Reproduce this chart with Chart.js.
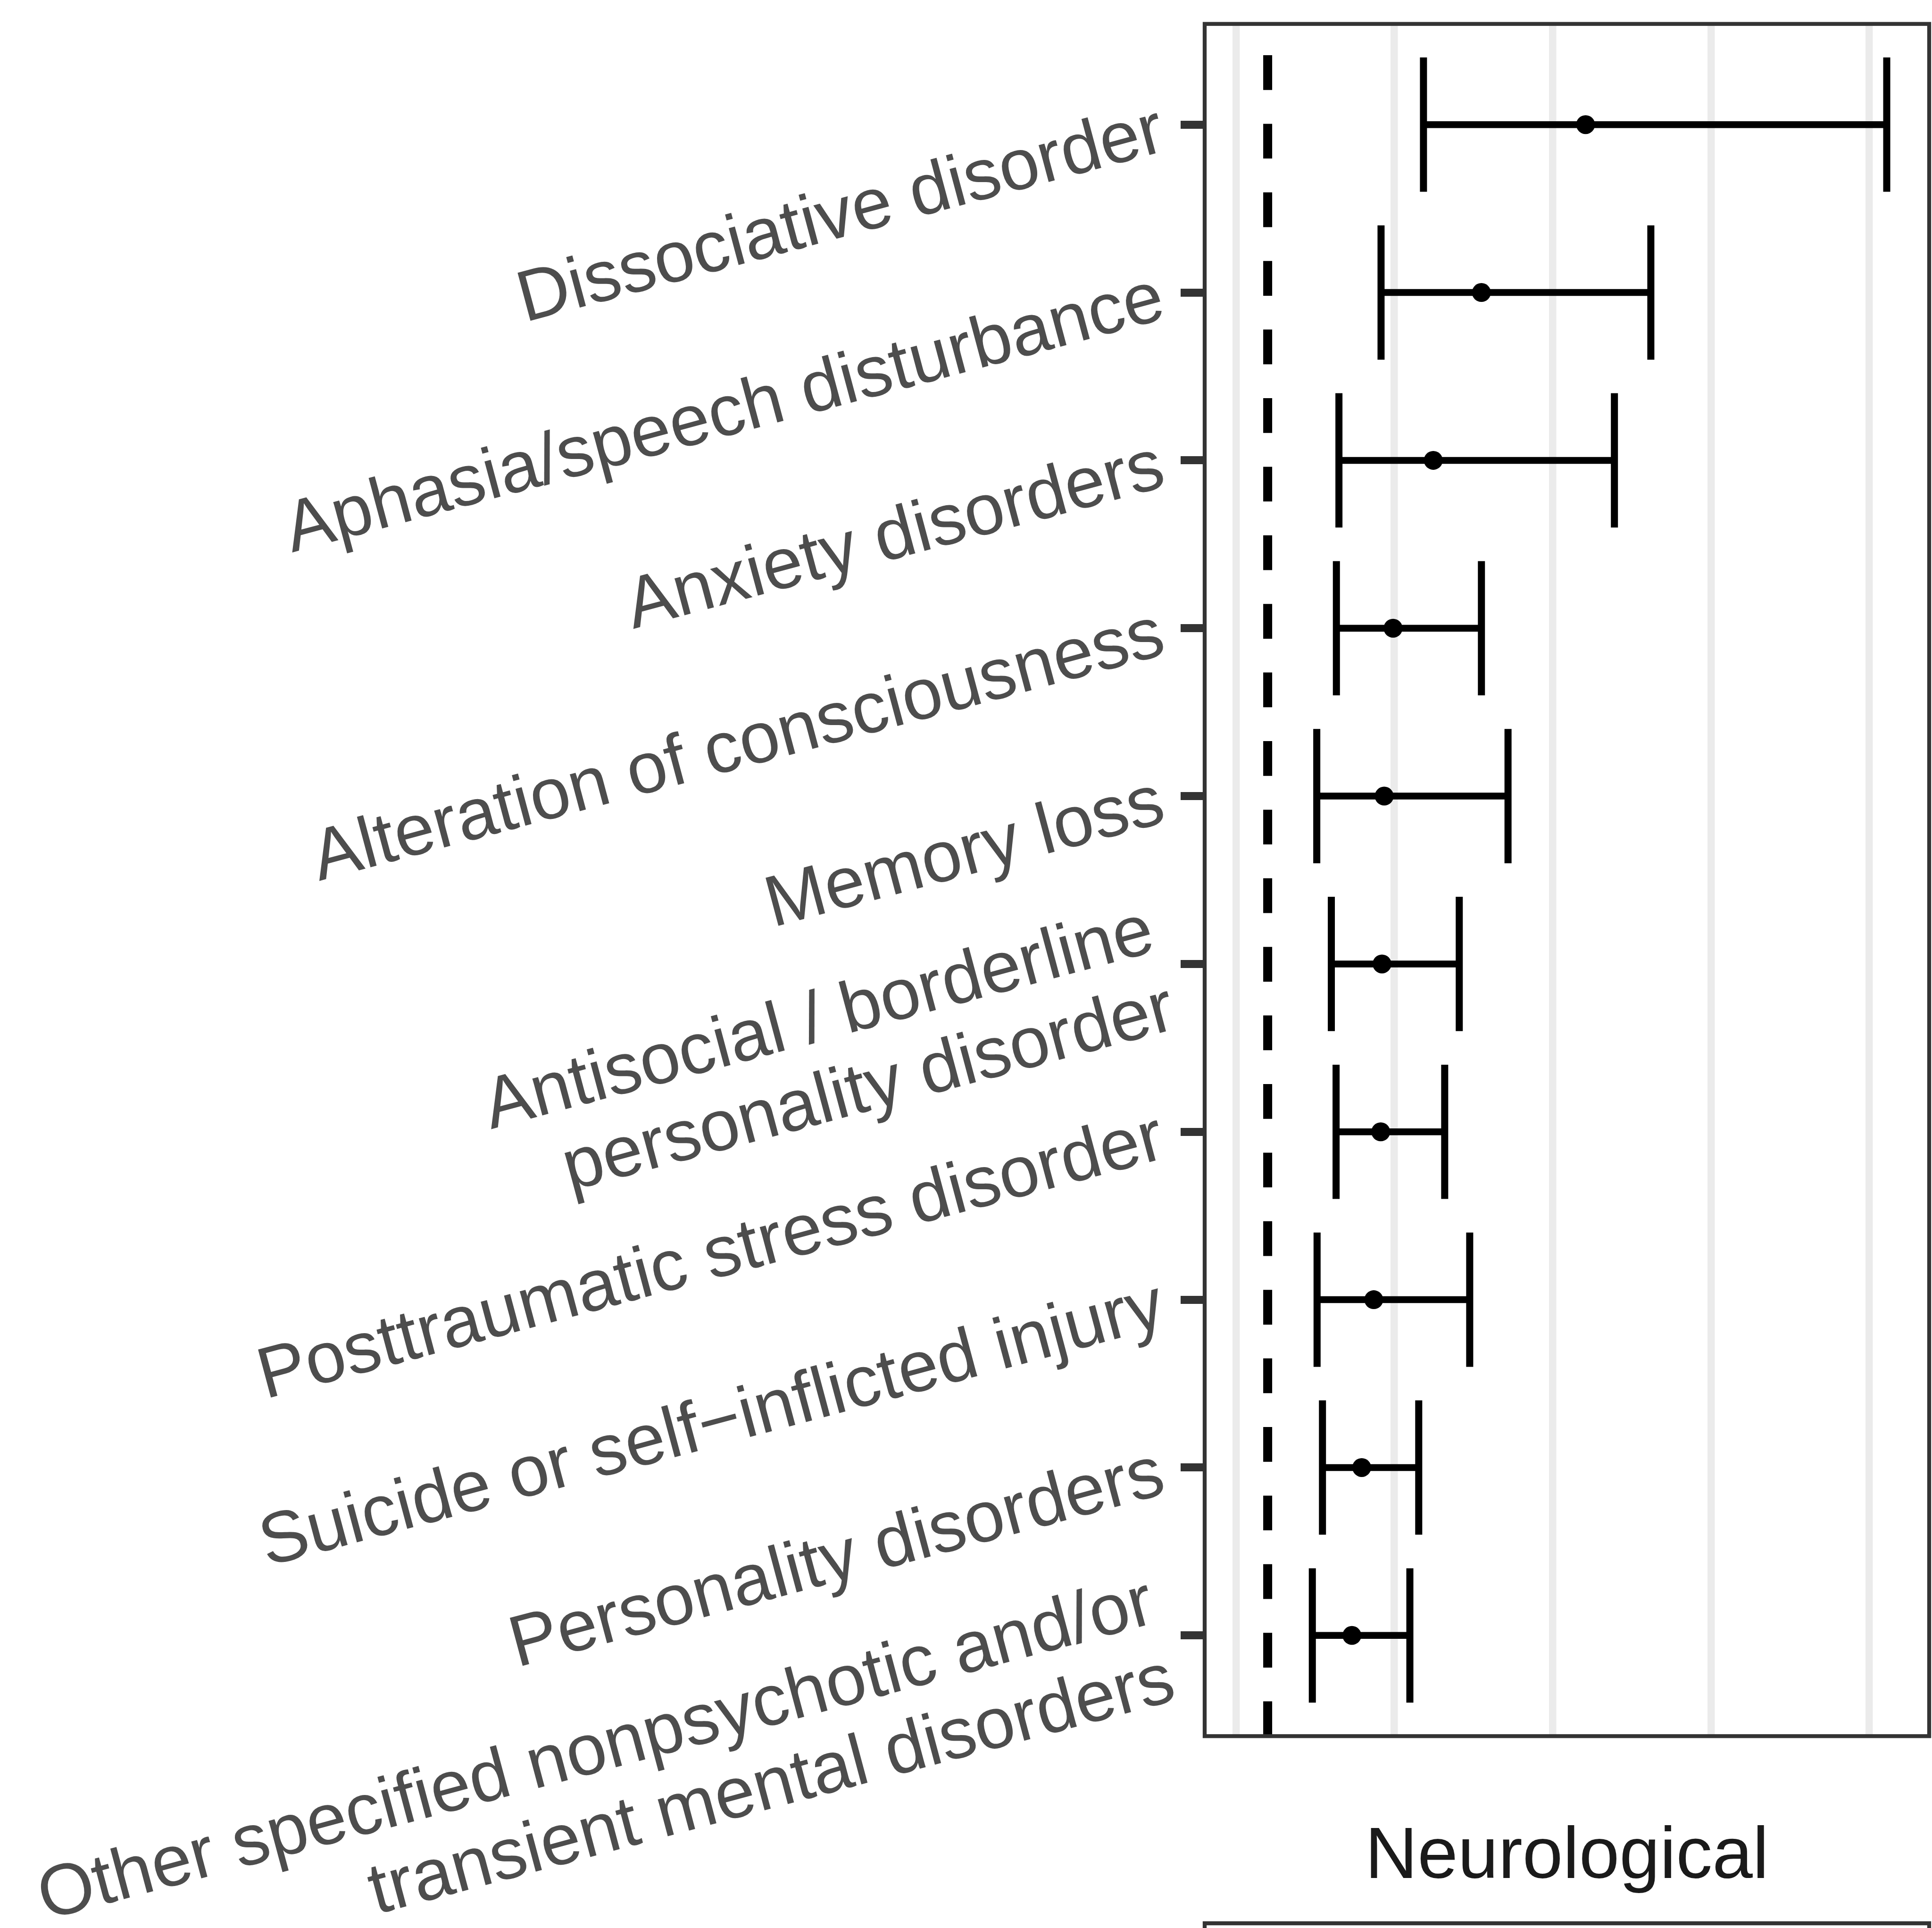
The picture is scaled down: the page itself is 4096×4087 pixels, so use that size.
<!DOCTYPE html>
<html>
<head>
<meta charset="utf-8">
<script src="https://cdn.jsdelivr.net/npm/chart.js@4.4.1/dist/chart.umd.min.js"></script>
<style>
  html, body { margin: 0; padding: 0; background: #ffffff; overflow: hidden; }
  #wrap { width: 4096px; height: 4087px; position: relative; background: #ffffff; }
</style>
</head>
<body>
<div id="wrap"><canvas id="c"></canvas></div>
<script>
// ---- data ----
const categories = [
  "Dissociative disorder",
  "Aphasia/speech disturbance",
  "Anxiety disorders",
  "Alteration of consciousness",
  "Memory loss",
  ["Antisocial / borderline", "personality disorder"],
  "Posttraumatic stress disorder",
  "Suicide or self\u2212inflicted injury",
  "Personality disorders",
  ["Other specified nonpsychotic and/or", "transient mental disorders"]
];
const estimate = [11.04, 7.75, 6.23, 4.96, 4.68, 4.61, 4.57, 4.35, 3.97, 3.66];
const lower    = [5.92, 4.58, 3.25, 3.17, 2.55, 3.01, 3.16, 2.56, 2.73, 2.41];
const upper    = [20.55, 13.10, 11.95, 7.75, 8.59, 7.05, 6.59, 7.38, 5.77, 5.49];
const referenceLine = 1;
const xGridTicks = [0, 5, 10, 15, 20];
const facetLabel = "Neurological";

// ---- styling ----
const FONT = '"Liberation Sans", Arial, Helvetica, sans-serif';

const datasets = [];
// points (index 0 drawn on top)
datasets.push({
  type: 'scatter',
  data: estimate.map((v, i) => ({ x: v, y: i })),
  pointRadius: 20,
  pointBackgroundColor: '#000000',
  pointBorderWidth: 0,
  showLine: false
});
// error bars
const capRadius = (c) => {
  const y = c.chart.scales && c.chart.scales.y;
  const r = y ? Math.abs(y.getPixelForValue(0.4) - y.getPixelForValue(0)) : 142;
  return isFinite(r) && r > 0 ? r : 142;
};
for (let i = 0; i < categories.length; i++) {
  datasets.push({
    type: 'line',
    data: [{ x: lower[i], y: i }, { x: upper[i], y: i }],
    borderColor: '#000000',
    borderWidth: 14.5,
    pointStyle: 'line',
    pointRotation: 90,
    pointRadius: capRadius,
    pointBorderWidth: 15,
    pointBorderColor: '#000000',
    pointBackgroundColor: '#000000',
    fill: false,
    tension: 0
  });
}
// dashed reference line (starts from the bottom)
datasets.push({
  type: 'line',
  data: [{ x: referenceLine, y: 9.6 }, { x: referenceLine, y: -0.6 }],
  borderColor: '#000000',
  borderWidth: 19,
  borderDash: [73.7, 71.7],
  pointRadius: 0,
  fill: false
});

const framePlugin = {
  id: 'frame',
  afterDatasetsDraw(chart) {
    const { ctx, chartArea: a } = chart;
    ctx.save();
    ctx.strokeStyle = '#333333';
    ctx.lineWidth = 8.3;
    ctx.strokeRect(a.left, a.top, a.right - a.left, a.bottom - a.top);
    const yb = a.bottom + 396.7;
    ctx.beginPath();
    ctx.moveTo(a.left, chart.height + 20);
    ctx.lineTo(a.left, yb);
    ctx.lineTo(a.right, yb);
    ctx.lineTo(a.right, chart.height + 20);
    ctx.stroke();
    ctx.restore();
  }
};

new Chart(document.getElementById('c'), {
  type: 'scatter',
  data: { datasets },
  plugins: [framePlugin],
  options: {
    responsive: true,
    maintainAspectRatio: false,
    animation: false,
    events: [],
    devicePixelRatio: 1,
    layout: { autoPadding: false, padding: { left: 0, right: 6, top: 50.7, bottom: 0 } },
    plugins: { legend: { display: false }, tooltip: { enabled: false } },
    scales: {
      x: {
        type: 'linear',
        min: -0.99,
        max: 21.89,
        afterBuildTicks: (s) => { s.ticks = xGridTicks.map(v => ({ value: v })); },
        afterFit: (s) => { s.height = 406.7; s.paddingLeft = 0; s.paddingRight = 0; },
        border: { display: false },
        grid: { color: '#EBEBEB', lineWidth: 15.5, drawTicks: false },
        ticks: { display: false },
        title: {
          display: true,
          text: facetLabel,
          color: '#1A1A1A',
          font: { family: FONT, size: 154, lineHeight: 1.2 },
          padding: { top: 0, bottom: 56 }
        }
      },
      y: {
        type: 'linear',
        reverse: true,
        min: -0.6,
        max: 9.6,
        afterBuildTicks: (s) => { s.ticks = categories.map((_, i) => ({ value: i })); },
        afterFit: (s) => { s.width = 2554; s.paddingTop = 0; s.paddingBottom = 0; s.paddingLeft = 0; s.paddingRight = 0; },
        border: { display: false },
        grid: { drawOnChartArea: false, drawTicks: true, tickLength: 51, tickWidth: 17, tickColor: '#333333' },
        ticks: {
          autoSkip: false,
          minRotation: 15,
          maxRotation: 15,
          padding: 38,
          labelOffset: 13,
          color: '#4D4D4D',
          font: { family: FONT, size: 153, lineHeight: 1.11 },
          callback: (v) => categories[v]
        }
      }
    }
  }
});
</script>
</body>
</html>
